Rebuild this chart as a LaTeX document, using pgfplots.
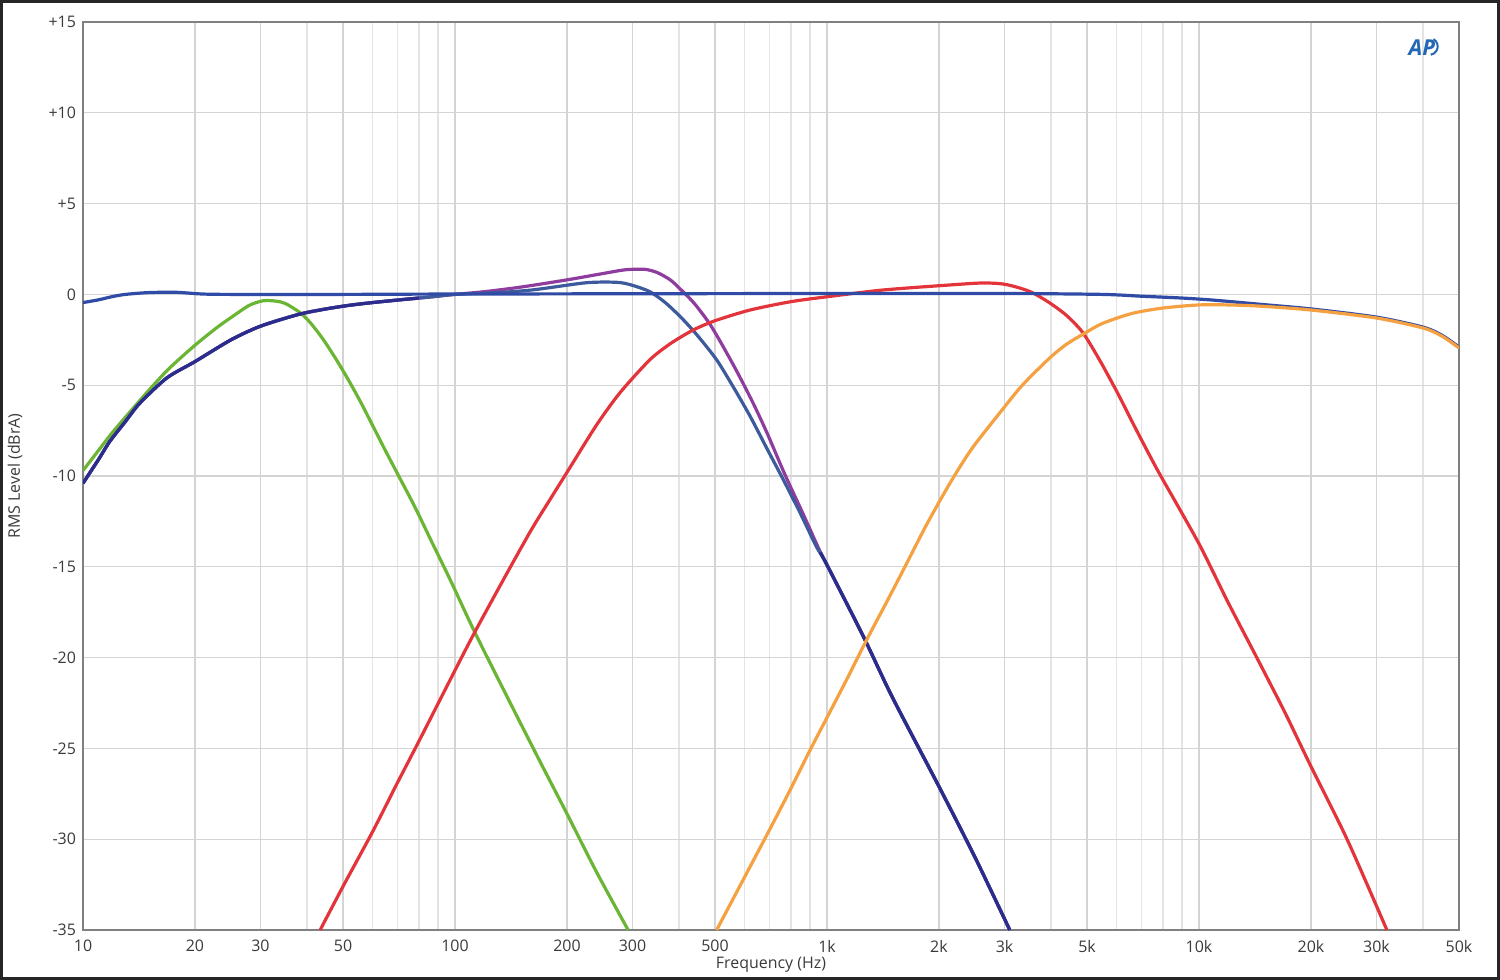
\documentclass[border=0pt]{standalone}
\usepackage{pgfplots}
\pgfplotsset{compat=1.18}
\usepackage{fontspec}
\setmainfont{Open Sans}
\definecolor{flatblue}{HTML}{2F4BA5}
\definecolor{navyc}{HTML}{2C2C8C}
\definecolor{steelc}{HTML}{3C5A9C}
\definecolor{purplec}{HTML}{8E3C9E}
\definecolor{greenc}{HTML}{6BB534}
\definecolor{redc}{HTML}{E3343B}
\definecolor{orangec}{HTML}{F5A142}
\definecolor{gridmaj}{HTML}{D4D4D4}
\definecolor{gridmin}{HTML}{E4E4E4}
\definecolor{axisc}{HTML}{808080}
\definecolor{tickc}{HTML}{3A3A3A}
\definecolor{apblue}{HTML}{2467B5}
\begin{document}
\begin{tikzpicture}
\useasboundingbox (-41.5bp,-25bp) rectangle (708.5bp,465bp);
\draw[line width=1.6bp, draw=black!85] (-40.7bp,-24.2bp) rectangle (707.7bp,464.2bp);
\begin{axis}[
  at={(0,0)}, anchor=south west,
  scale only axis, width=688bp, height=454bp,
  xmode=log, log basis x=10,
  xmin=10, xmax=50000, ymin=-35, ymax=15,
  xtick={10,20,30,50,100,200,300,500,1000,2000,3000,5000,10000,20000,30000,50000},
  xticklabels={10,20,30,50,100,200,300,500,1k,2k,3k,5k,10k,20k,30k,50k},
  minor xtick={40,60,70,80,90,400,600,700,800,900,4000,6000,7000,8000,9000,40000},
  ytick={-35,-30,-25,-20,-15,-10,-5,0,5,10,15},
  yticklabels={-35,-30,-25,-20,-15,-10,-5,0,+5,+10,+15},
  grid=both,
  major grid style={draw=gridmaj, line width=0.6bp},
  minor grid style={draw=gridmin, line width=0.6bp},
  axis line style={draw=axisc, line width=0.9bp},
  major tick length=0pt, minor tick length=0pt,
  tick label style={font=\fontsize{8}{9}\selectfont, text=tickc},
  xticklabel style={yshift=-1.5bp},
  /pgf/number format/assume math mode=true,
  xlabel={Frequency (Hz)},
  xlabel style={font=\fontsize{8}{9}\selectfont, text=tickc, at={(axis description cs:0.5,-0.0385)}, anchor=center},
  ylabel={RMS Level (dBrA)},
  ylabel style={font=\fontsize{8}{9}\selectfont, text=tickc, at={(axis description cs:-0.0494,0.5)}, anchor=center, rotate=0},
  every axis plot/.append style={line width=1.6bp, line join=round, smooth, tension=0.45},
  clip=true,
]
% green (subwoofer)
\addplot[greenc] coordinates {
(10,-9.7) (11,-8.6) (12,-7.6) (13.6,-6.3) (15,-5.3) (17,-4.1) (20,-2.8) (23,-1.8) (25.3,-1.2) (28,-0.6) (30.5,-0.35) (33,-0.37) (35,-0.5) (38.3,-1.0) (41,-1.6) (44.3,-2.5) (48,-3.6) (52,-4.8) (56,-6.0) (60,-7.2) (65,-8.6) (71,-10.1) (78,-11.7) (86,-13.5) (97,-15.7) (113,-18.6) (140,-22.4) (170,-25.8) (200,-28.6) (240,-31.8) (292,-35)
};
% purple
\addplot[purplec] coordinates {
(10,-10.4) (11,-9.1) (11.8,-8.1) (13,-7.0) (14.2,-6.0) (16.8,-4.6) (20,-3.7) (25,-2.5) (30,-1.75) (38,-1.1) (45,-0.8) (52,-0.6) (60,-0.45) (71,-0.3) (85,-0.15) (100,0) (120,0.15) (150,0.4) (200,0.8) (250,1.15) (288,1.36) (324,1.38) (350,1.2) (379,0.8) (403,0.3) (440,-0.5) (483,-1.6) (520,-2.7) (571,-4.2) (630,-5.9) (689,-7.6) (770,-9.9) (863,-12.1) (960,-14.2) (1000,-14.9) (1250,-18.8) (1500,-22.2) (2000,-27.1) (2500,-31.0) (3100,-35)
};
% steel blue
\addplot[steelc] coordinates {
(10,-10.4) (11,-9.1) (11.8,-8.1) (13,-7.0) (14.2,-6.0) (16.8,-4.6) (20,-3.7) (25,-2.5) (30,-1.75) (38,-1.1) (45,-0.8) (52,-0.6) (60,-0.45) (71,-0.3) (85,-0.15) (100,0) (130,0.1) (162,0.25) (220,0.62) (250,0.68) (278,0.65) (300,0.5) (334,0.15) (370,-0.5) (411,-1.4) (450,-2.3) (505,-3.6) (560,-5.1) (621,-6.7) (690,-8.5) (763,-10.2) (850,-12.1) (937,-13.9) (1000,-14.9) (1250,-18.8) (1500,-22.2) (2000,-27.1) (2500,-31.0) (3100,-35)
};
% navy (merged segments)
\addplot[navyc] coordinates {
(10,-10.4) (11,-9.1) (11.8,-8.1) (13,-7.0) (14.2,-6.0) (16.8,-4.6) (20,-3.7) (25,-2.5) (30,-1.75) (38,-1.1) (45,-0.8) (52,-0.6) (60,-0.45) (71,-0.3) (80,-0.2)
};
\addplot[navyc] coordinates {
(960,-14.2) (1000,-14.9) (1250,-18.8) (1500,-22.2) (2000,-27.1) (2500,-31.0) (3100,-35)
};
% red (midrange)
\addplot[redc] coordinates {
(43.4,-35) (50,-32.6) (60,-29.6) (70,-26.9) (80,-24.6) (100,-20.7) (113,-18.6) (135,-15.7) (160,-13.0) (180,-11.3) (200,-9.8) (240,-7.2) (278,-5.4) (334,-3.6) (380,-2.7) (437,-1.96) (500,-1.45) (621,-0.86) (800,-0.4) (1000,-0.13) (1410,0.24) (2140,0.52) (2620,0.63) (2980,0.57) (3300,0.35) (3580,0.08) (3970,-0.47) (4400,-1.15) (4870,-2.1) (5400,-3.6) (6030,-5.4) (6800,-7.5) (7700,-9.6) (8800,-11.7) (10100,-13.9) (12000,-17.0) (14300,-20.0) (17000,-23.0) (19900,-25.9) (25000,-30.0) (32000,-35)
};
% flat blue (full range)
\addplot[flatblue] coordinates {
(10,-0.45) (11,-0.3) (12,-0.12) (13,0.0) (15,0.1) (17.5,0.12) (19,0.08) (21,0.02) (25,0) (50,0) (100,0.02) (1000,0.05) (3000,0.05) (5500,0.0) (7000,-0.1) (9000,-0.2) (11000,-0.32) (14700,-0.55) (20000,-0.8) (30000,-1.25) (40000,-1.8) (45000,-2.25) (50000,-2.9)
};
% orange (tweeter)
\addplot[orangec] coordinates {
(505,-35) (600,-32.1) (700,-29.5) (800,-27.2) (900,-25.1) (1000,-23.3) (1130,-21.2) (1280,-19.0) (1450,-16.9) (1620,-15.0) (1850,-12.7) (2140,-10.4) (2450,-8.5) (2920,-6.5) (3350,-5.0) (3970,-3.5) (4400,-2.75) (4870,-2.2) (5500,-1.6) (6600,-1.05) (8000,-0.75) (10000,-0.58) (12000,-0.58) (14700,-0.65) (20000,-0.86) (30000,-1.3) (40000,-1.85) (45000,-2.3) (50000,-2.95)
};
\node[text=tickc, font=\fontsize{8}{9}\selectfont, anchor=center] at (rel axis cs:0.5,1.0135) {RMS Level};
\node[text=apblue, font=\fontsize{11}{12}\selectfont\bfseries\itshape, inner sep=0pt] (ap) at (rel axis cs:0.973,0.972) {AP};
\draw[apblue, line width=1bp] ([xshift=-1bp]ap.north east) arc[start angle=60, end angle=-80, radius=4.2bp];
\end{axis}
\end{tikzpicture}
\end{document}
